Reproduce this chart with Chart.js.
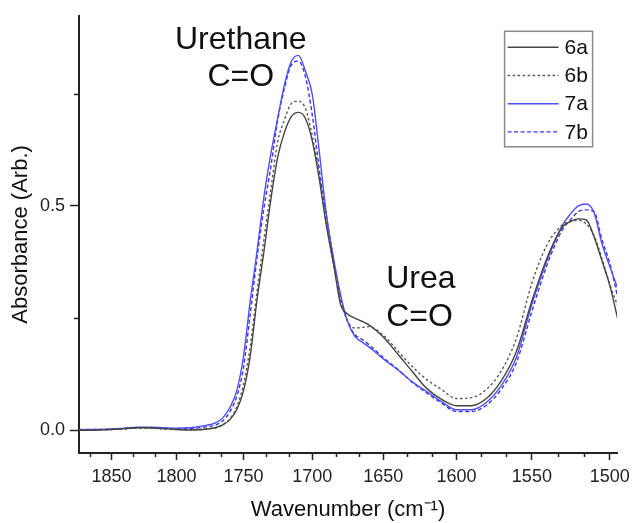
<!DOCTYPE html>
<html>
<head>
<meta charset="utf-8">
<script src="https://cdn.jsdelivr.net/npm/chart.js@4.4.1/dist/chart.umd.min.js"></script>
<style>
  html, body { margin: 0; padding: 0; background: #fff; }
  #wrap { width: 636px; height: 523px; }
</style>
</head>
<body>
<div id="wrap"><canvas id="irChart" width="636" height="523"></canvas></div>
<script>
// wavenumber grid (cm-1)
const wavenumber = [1875, 1860, 1850, 1840, 1830, 1820, 1810, 1800, 1790, 1780,
  1770, 1765, 1760, 1755, 1750, 1745, 1740, 1735, 1730, 1725,
  1720, 1715, 1710, 1705, 1700, 1695, 1690, 1685, 1680, 1675,
  1670, 1665, 1660, 1650, 1640, 1630, 1620, 1610, 1600, 1590,
  1580, 1570, 1560, 1550, 1540, 1530, 1525, 1520, 1515, 1510,
  1505, 1500, 1495];

const abs6a = [0.000, 0.001, 0.002, 0.004, 0.006, 0.006, 0.004, 0.002, 0.001, 0.002,
  0.007, 0.013, 0.024, 0.046, 0.088, 0.166, 0.292, 0.398, 0.513, 0.608,
  0.664, 0.699, 0.708, 0.695, 0.644, 0.558, 0.456, 0.372, 0.281, 0.259,
  0.250, 0.243, 0.235, 0.208, 0.170, 0.131, 0.093, 0.069, 0.055, 0.055,
  0.071, 0.111, 0.177, 0.288, 0.385, 0.454, 0.465, 0.471, 0.469, 0.431,
  0.378, 0.323, 0.248];

const abs6b = [0.001, 0.001, 0.002, 0.003, 0.005, 0.005, 0.003, 0.002, 0.002, 0.003,
  0.006, 0.013, 0.026, 0.052, 0.102, 0.188, 0.310, 0.425, 0.535, 0.642,
  0.692, 0.728, 0.733, 0.717, 0.655, 0.566, 0.460, 0.372, 0.292, 0.243,
  0.228, 0.229, 0.231, 0.212, 0.177, 0.142, 0.113, 0.091, 0.071, 0.073,
  0.091, 0.133, 0.206, 0.328, 0.414, 0.458, 0.465, 0.468, 0.460, 0.434,
  0.383, 0.325, 0.277];

const abs7a = [0.001, 0.002, 0.003, 0.005, 0.007, 0.007, 0.006, 0.005, 0.006, 0.010,
  0.018, 0.029, 0.051, 0.088, 0.164, 0.289, 0.400, 0.520, 0.615, 0.695,
  0.771, 0.822, 0.835, 0.800, 0.747, 0.619, 0.482, 0.385, 0.303, 0.243,
  0.210, 0.197, 0.186, 0.159, 0.135, 0.108, 0.086, 0.064, 0.046, 0.046,
  0.062, 0.100, 0.164, 0.281, 0.380, 0.458, 0.482, 0.500, 0.504, 0.485,
  0.416, 0.365, 0.316];

const abs7b = [0.002, 0.002, 0.003, 0.004, 0.006, 0.006, 0.005, 0.004, 0.004, 0.007,
  0.013, 0.022, 0.042, 0.075, 0.140, 0.260, 0.385, 0.495, 0.586, 0.690,
  0.763, 0.814, 0.822, 0.788, 0.701, 0.580, 0.476, 0.381, 0.296, 0.243,
  0.214, 0.203, 0.191, 0.162, 0.136, 0.107, 0.083, 0.061, 0.042, 0.042,
  0.056, 0.092, 0.152, 0.265, 0.370, 0.448, 0.469, 0.487, 0.491, 0.487,
  0.425, 0.372, 0.296];

const seriesNames = ['6a', '6b', '7a', '7b'];
const xTicks = [1850, 1800, 1750, 1700, 1650, 1600, 1550, 1500];
const yTicks = [0, 0.5];
const yMinorTicks = [0.25, 0.75];

const FONT = '"Liberation Sans", Arial, Helvetica, sans-serif';
const axisColor = '#222';

// two minor ticks between each pair of labelled ticks
const xMinorTicks = [];
xTicks.forEach(m => { xMinorTicks.push(m + 50 / 3, m + 100 / 3); });

const styles = [
  { color: '#444444', dash: [] },
  { color: '#555555', dash: [2.5, 2.5] },
  { color: '#4f4fff', dash: [] },
  { color: '#3535f0', dash: [4, 2.5] }
];

const seriesData = [abs6a, abs6b, abs7a, abs7b];

const datasets = seriesData.map((vals, i) => ({
  label: seriesNames[i],
  data: vals.map((v, j) => ({ x: wavenumber[j], y: v })),
  borderColor: styles[i].color,
  borderDash: styles[i].dash,
  borderWidth: 1.4,
  pointRadius: 0,
  cubicInterpolationMode: 'monotone',
  fill: false
}));

// text labels placed in data coordinates
const notes = [
  { text: 'Urethane', x: 1752, y: 0.850, align: 'center' },
  { text: 'C=O', x: 1752, y: 0.767, align: 'center' },
  { text: 'Urea', x: 1648, y: 0.316, align: 'left' },
  { text: 'C=O', x: 1648, y: 0.232, align: 'left' }
];

const extrasPlugin = {
  id: 'extras',
  afterDraw(chart) {
    const { ctx, chartArea } = chart;
    const xs = chart.scales.x, ys = chart.scales.y;
    ctx.save();

    // minor ticks
    ctx.strokeStyle = axisColor;
    ctx.lineWidth = 1.5;
    xMinorTicks.forEach(v => {
      if (v < xs.min || v > xs.max) return;
      const px = Math.round(xs.getPixelForValue(v)) + 0.5;
      ctx.beginPath();
      ctx.moveTo(px, chartArea.bottom);
      ctx.lineTo(px, chartArea.bottom + 4);
      ctx.stroke();
    });
    yMinorTicks.forEach(v => {
      const py = Math.round(ys.getPixelForValue(v)) + 0.5;
      ctx.beginPath();
      ctx.moveTo(chartArea.left - 5, py);
      ctx.lineTo(chartArea.left, py);
      ctx.stroke();
    });

    // peak annotations
    ctx.fillStyle = '#111';
    ctx.font = '32px ' + FONT;
    ctx.textBaseline = 'alphabetic';
    notes.forEach(n => {
      ctx.textAlign = n.align;
      ctx.fillText(n.text, xs.getPixelForValue(n.x), ys.getPixelForValue(n.y));
    });

    // legend box
    const left = chartArea.right - 112.5;
    const top = chartArea.top + 15.5;
    ctx.strokeStyle = '#8a8a8a';
    ctx.lineWidth = 1.5;
    ctx.strokeRect(left, top, 88, 115.5);
    ctx.font = '21px ' + FONT;
    ctx.textAlign = 'left';
    ctx.textBaseline = 'middle';
    seriesNames.forEach((name, i) => {
      const yy = top + 16 + i * 28.2;
      ctx.strokeStyle = styles[i].color;
      ctx.lineWidth = 1.4;
      ctx.setLineDash(styles[i].dash);
      ctx.beginPath();
      ctx.moveTo(left + 3, yy);
      ctx.lineTo(left + 54, yy);
      ctx.stroke();
      ctx.setLineDash([]);
      ctx.fillStyle = '#111';
      ctx.fillText(name, left + 60, yy + 1);
    });
    ctx.restore();
  }
};

new Chart(document.getElementById('irChart'), {
  type: 'line',
  data: { datasets: datasets },
  options: {
    responsive: false,
    animation: false,
    devicePixelRatio: 1,
    layout: { padding: { top: 13, right: 13, left: 0, bottom: 0 } },
    plugins: {
      legend: { display: false },
      tooltip: { enabled: false }
    },
    scales: {
      x: {
        type: 'logarithmic',
        reverse: true,
        min: 1495.4,
        max: 1875.4,
        afterBuildTicks: scale => { scale.ticks = xTicks.map(v => ({ value: v })); },
        afterFit: scale => { scale.height = 70; },
        border: { display: true, color: axisColor, width: 2 },
        grid: { drawOnChartArea: false, drawTicks: true, tickLength: 7, tickColor: axisColor, tickWidth: 1.5 },
        ticks: {
          autoSkip: false,
          maxRotation: 0,
          padding: 6,
          color: '#222',
          font: { family: FONT, size: 18 },
          callback: v => String(v)
        },
        title: {
          display: true,
          text: 'Wavenumber (cm⁻¹)',
          color: '#111',
          font: { family: FONT, size: 22 },
          padding: { top: 0, bottom: 0 }
        }
      },
      y: {
        min: -0.0503,
        max: 0.923,
        afterBuildTicks: scale => { scale.ticks = yTicks.map(v => ({ value: v })); },
        afterFit: scale => { scale.width = 79; },
        border: { display: true, color: axisColor, width: 2 },
        grid: { drawOnChartArea: false, drawTicks: true, tickLength: 9, tickColor: axisColor, tickWidth: 1.5 },
        ticks: {
          padding: 5,
          color: '#222',
          font: { family: FONT, size: 18 },
          callback: v => v.toFixed(1)
        },
        title: {
          display: true,
          text: 'Absorbance (Arb.)',
          color: '#111',
          font: { family: FONT, size: 22 },
          padding: { top: 8, bottom: 0 }
        }
      }
    }
  },
  plugins: [extrasPlugin]
});
</script>
</body>
</html>
